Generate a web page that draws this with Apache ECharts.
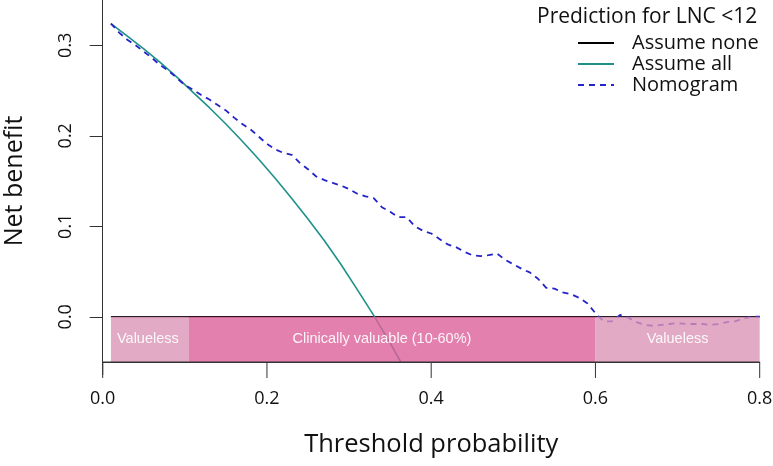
<!DOCTYPE html>
<html><head><meta charset="utf-8">
<script src="https://cdn.jsdelivr.net/npm/echarts@6/dist/echarts.min.js"></script>
<style>html,body{margin:0;padding:0;background:#fff}#c{width:773px;height:466px}</style>
</head><body><div id="c"></div>
<script>
// ---- data ----
const thresholds = [0.01,0.02,0.03,0.04,0.05,0.06,0.07,0.08,0.09,0.10,
  0.11,0.12,0.13,0.14,0.15,0.16,0.17,0.18,0.19,0.20,
  0.21,0.22,0.23,0.24,0.25,0.26,0.27,0.28,0.29,0.30,
  0.31,0.32,0.33,0.34,0.35,0.36,0.37,0.38,0.39,0.40,
  0.41,0.42,0.43,0.44,0.45,0.46,0.47,0.48,0.49,0.50,
  0.51,0.52,0.53,0.54,0.55,0.56,0.57,0.58,0.59,0.60,
  0.61,0.62,0.63,0.64,0.65,0.66,0.67,0.68,0.69,0.70,
  0.71,0.72,0.73,0.74,0.75,0.76,0.77,0.78,0.79,0.80];
const nomogram = [0.324,0.314,0.306,0.300,0.293,0.286,0.278,0.272,0.264,0.256,
  0.251,0.245,0.240,0.234,0.228,0.220,0.213,0.207,0.199,0.191,
  0.185,0.181,0.179,0.170,0.163,0.155,0.151,0.148,0.145,0.141,
  0.136,0.133,0.131,0.121,0.116,0.110,0.110,0.100,0.095,0.092,
  0.086,0.080,0.077,0.072,0.068,0.067,0.068,0.070,0.063,0.058,
  0.053,0.049,0.042,0.032,0.031,0.027,0.025,0.021,0.015,0.004,
  -0.005,-0.005,0.002,-0.001,-0.006,-0.009,-0.010,-0.009,-0.008,-0.007,
  -0.008,-0.008,-0.008,-0.009,-0.008,-0.006,-0.005,-0.002,0.000,0.000];
const allThresholds = [0.01,0.03,0.05,0.07,0.09,0.11,0.13,0.15,0.17,0.19,0.21,0.23,0.25,0.27,0.29,0.31,0.33,0.35,0.363];
const assumeAll = [0.324,0.310,0.296,0.281,0.265,0.248,0.231,0.213,0.194,0.174,0.153,0.131,0.108,0.084,0.058,0.030,0.0015,-0.029,-0.050];
const noneThresholds = [0.01,0.80];
const assumeNone = [0,0];
const xTicks = [0,0.2,0.4,0.6,0.8];
const yTicks = [0,0.1,0.2,0.3];
const regionStart = [0.01,0.105,0.6];
const regionEnd = [0.105,0.6,0.8];
const regionLabelX = [0.055,0.34,0.7];
const regionNames = ['Valueless','Clinically valuable (10-60%)','Valueless'];
const seriesNames = ['Assume none','Assume all','Nomogram'];
const legendTitle = 'Prediction for LNC <12';
const xTitle = 'Threshold probability';
const yTitle = 'Net benefit';

// ---- chart ----
const regionColors = ['rgba(219,149,181,0.8)','rgba(221,96,154,0.8)','rgba(219,149,181,0.8)'];
const FONT = '"Open Sans", "Noto Sans", sans-serif';
const GRID = {left:102.7, right:13.3, top:0, bottom:104};
const Y_MIN = -0.05;
const chart = echarts.init(document.getElementById('c'), null, {renderer:'canvas'});
chart.setOption({
  animation:false,
  backgroundColor:'#fff',
  title:{text:legendTitle, left:537, top:7, padding:0,
    textStyle:{fontFamily:FONT, fontSize:21, fontWeight:'normal', color:'#111'}},
  legend:{orient:'vertical', left:577, top:33, padding:0, itemWidth:36, itemHeight:14, itemGap:1,
    data:seriesNames,
    itemStyle:{color:'rgba(0,0,0,0)', borderWidth:0},
    textStyle:{fontFamily:FONT, fontSize:20, color:'#111', lineHeight:20, padding:[0,0,0,13]}},
  grid:Object.assign({containLabel:false, outerBoundsMode:'none'}, GRID),
  graphic:[{type:'line', z:0, silent:true,
    shape:{x1:GRID.left, y1:466-GRID.bottom, x2:GRID.left, y2:466-GRID.bottom+13},
    style:{stroke:'#333', lineWidth:1}}],
  xAxis:{type:'value', min:0, max:0.8, interval:0.2, z:10,
    name:xTitle, nameLocation:'middle', nameGap:70,
    nameTextStyle:{fontFamily:FONT, fontSize:25.5, color:'#111'},
    axisLine:{show:true, onZero:false, lineStyle:{color:'#333', width:1}},
    axisTick:{show:false},
    axisLabel:{show:true, margin:28, fontFamily:FONT, fontSize:18, color:'#111', formatter:v=>Number(v).toFixed(1)},
    splitLine:{show:false}},
  yAxis:{type:'value', min:Y_MIN, max:0.35,
    name:yTitle, nameLocation:'middle', nameGap:75,
    nameTextStyle:{fontFamily:FONT, fontSize:25, color:'#111'},
    axisLine:{show:true, onZero:false, lineStyle:{color:'#333', width:1}},
    axisTick:{show:true, length:13, customValues:yTicks, lineStyle:{color:'#333'}},
    axisLabel:{show:true, customValues:yTicks, rotate:90, margin:28, fontFamily:FONT, fontSize:18, color:'#111',
      formatter:v=>Number(v).toFixed(1)},
    splitLine:{show:false}},
  series:[
    {name:seriesNames[0], type:'line', z:2, symbol:'none', color:'#000',
      lineStyle:{color:'#000', width:1.5},
      data:noneThresholds.map((t,i)=>[t,assumeNone[i]])},
    {name:seriesNames[1], type:'line', z:2, symbol:'none', color:'#1f9188',
      lineStyle:{color:'#1f9188', width:1.6},
      data:allThresholds.map((t,i)=>[t,assumeAll[i]])},
    {name:seriesNames[2], type:'line', z:2, symbol:'none', color:'#2424c8',
      lineStyle:{color:'#2424c8', width:1.8, type:[6,5]},
      data:thresholds.map((t,i)=>[t,nomogram[i]])},
    {name:'regions', type:'custom', z:5, silent:true,
      encode:{x:[0,1]},
      data:regionStart.map((s,i)=>[s,regionEnd[i],regionLabelX[i],i]),
      renderItem:function(params, api){
        const i = api.value(3);
        const p0 = api.coord([api.value(0), 0]);
        const p1 = api.coord([api.value(1), -0.05]);
        const pl = api.coord([api.value(2), -0.025]);
        return {type:'group', children:[
          {type:'rect', shape:{x:p0[0], y:p0[1], width:p1[0]-p0[0], height:p1[1]-p0[1]},
            style:{fill:regionColors[i]}},
          {type:'text', style:{text:regionNames[i], x:pl[0], y:pl[1], align:'center', verticalAlign:'middle',
            fill:'rgba(255,255,255,0.92)', fontSize:14.5, fontFamily:'"Liberation Sans", Arial, sans-serif'}}
        ]};
      }},
    {name:'xticks', type:'custom', z:10, silent:true, clip:false,
      encode:{x:0},
      data:xTicks.map(v=>[v]),
      renderItem:function(params, api){
        const p = api.coord([api.value(0), Y_MIN]);
        const children = [{type:'line', shape:{x1:p[0], y1:p[1], x2:p[0], y2:p[1]+16},
          style:{stroke:'#333', lineWidth:1}}];
        if (params.dataIndex === 0) {
          const a = api.coord([xTicks[0], Y_MIN]);
          const b = api.coord([xTicks[xTicks.length-1], Y_MIN]);
          children.push({type:'line', shape:{x1:a[0], y1:a[1], x2:b[0], y2:b[1]},
            style:{stroke:'#333', lineWidth:1}});
        }
        return {type:'group', children:children};
      }}
  ]
});
</script></body></html>
